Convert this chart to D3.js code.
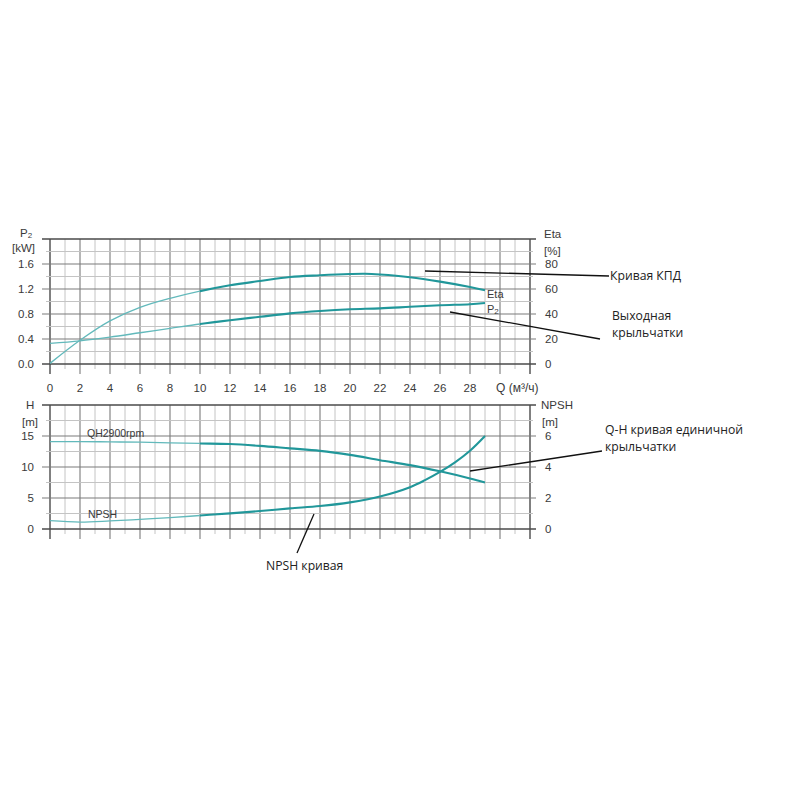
<!DOCTYPE html>
<html><head><meta charset="utf-8">
<script src="https://cdn.jsdelivr.net/npm/d3@7"></script>
<style>body{margin:0;background:#fff}svg{display:block}</style>
</head><body>
<svg id="c" width="800" height="800"></svg>
<script>
// ---- data ----
const xTickLabels = [0,2,4,6,8,10,12,14,16,18,20,22,24,26,28];
const p2Ticks = [0.0,0.4,0.8,1.2,1.6];
const etaTicks = [0,20,40,60,80];
const hTicks = [0,5,10,15];
const npshTicks = [0,2,4,6];

const etaQ = [0,2,4,6,8,10,12,14,16,18,20,21,22,24,26,28,29];
const etaVals = [0.5,19,34.5,45.3,52.5,58.3,63,66.4,69.6,71,72,72.2,71.6,69.4,65.9,61.6,59];

const p2Q = [0,2,4,6,8,10,12,14,16,18,20,22,24,26,28,29];
const p2Vals = [0.33,0.37,0.43,0.5,0.57,0.64,0.70,0.755,0.81,0.848,0.875,0.89,0.915,0.94,0.957,0.975];

const qhQ = [0,2,4,6,8,10,12,14,16,18,20,22,24,26,28,29];
const qhVals = [14.1,14.1,14.05,14.0,13.9,13.8,13.7,13.4,13.0,12.6,11.95,11.1,10.3,9.3,8.15,7.5];

const npshQ = [0,2,4,6,8,10,12,14,16,18,20,22,24,25,26,27,28,29];
const npshVals = [0.54,0.45,0.52,0.62,0.73,0.87,1.01,1.16,1.33,1.48,1.72,2.1,2.7,3.15,3.68,4.3,5.05,6.0];

// ---- layout ----
const svg = d3.select("#c");
const X0=50, X1=530;
const T = {top:239, bot:364};
const B = {top:405, bot:529};
const x = d3.scaleLinear().domain([0,32]).range([X0,X1]);
const yP2 = d3.scaleLinear().domain([0,2]).range([T.bot,T.top]);
const yEta = d3.scaleLinear().domain([0,100]).range([T.bot,T.top]);
const yH = d3.scaleLinear().domain([0,20]).range([B.bot,B.top]);
const yN = d3.scaleLinear().domain([0,8]).range([B.bot,B.top]);

const AX = "Liberation Sans, Arial, sans-serif";
const ANN = "'Open Sans', 'Noto Sans', sans-serif";
const MAJ="#7a7a7a", MIN="#c4c4c4", BORDER="#4a4a4a", TXT="#3a3a3a";
const TEAL="#21979a", TEAL_L="#62b9bb";

function grid(yScale, yStepMinor, yMajors, top, bot) {
  const g = svg.append("g");
  for (let q=0; q<=32; q++) {
    const major = q%2===0;
    g.append("line").attr("x1",x(q)).attr("x2",x(q)).attr("y1",top).attr("y2",bot + (major?10:5))
      .attr("stroke", (q===0||q===32)?BORDER:(major?MAJ:MIN)).attr("stroke-width",(q===0||q===32)?1.4:(major?1.1:1));
  }
  const [d0,d1] = yScale.domain();
  for (let v=d0; v<=d1+1e-9; v+=yStepMinor) {
    const vv = Math.round(v*1000)/1000;
    const isMajor = yMajors.some(m=>Math.abs(m-vv)<1e-6);
    const edge = Math.abs(vv-d0)<1e-6 || Math.abs(vv-d1)<1e-6;
    g.append("line").attr("x1",X0-(isMajor?8:4)).attr("x2",X1+(isMajor?6:3))
      .attr("y1",yScale(vv)).attr("y2",yScale(vv))
      .attr("stroke", edge?BORDER:(isMajor?MAJ:MIN)).attr("stroke-width", edge?1.6:(isMajor?1.1:1));
  }
}

grid(yP2, 0.2, [0,0.4,0.8,1.2,1.6,2.0], T.top, T.bot);
grid(yH, 2.5, [0,5,10,15,20], B.top, B.bot);

const txt = (s,xx,yy,anchor,size,fam,fill) => svg.append("text").attr("x",xx).attr("y",yy)
  .attr("text-anchor",anchor||"start").attr("font-family",fam||AX).attr("font-size",size||11.5)
  .attr("fill",fill||TXT).text(s);

xTickLabels.forEach(q => txt(q, x(q), 392, "middle", 11.5));
txt("Q (м³/ч)", 496, 392, "start", 12);

p2Ticks.forEach(v => txt(v.toFixed(1), 34, yP2(v)+4, "end", 11.5));
etaTicks.forEach(v => txt(v, 545, yEta(v)+4, "start", 11.5));
const p2l = svg.append("text").attr("x",20).attr("y",237).attr("font-family",AX).attr("font-size",11.5).attr("fill",TXT);
p2l.append("tspan").text("P");
p2l.append("tspan").attr("font-size",8).attr("dy",1).text("2");
txt("[kW]", 35, 252, "end", 11.5);
txt("Eta", 544, 238, "start", 11.5);
txt("[%]", 544, 255, "start", 11.5);

hTicks.forEach(v => txt(v, 34, yH(v)+4, "end", 11.5));
npshTicks.forEach(v => txt(v, 545, yN(v)+4, "start", 11.5));
txt("H", 26, 409, "start", 11.5);
txt("[m]", 22, 426, "start", 11.5);
txt("NPSH", 541, 409, "start", 11.5);
txt("[m]", 542, 426, "start", 11.5);

const defs = svg.append("defs");
defs.append("clipPath").attr("id","cl").append("rect").attr("x",0).attr("y",0).attr("width",x(10)).attr("height",800);
defs.append("clipPath").attr("id","cr").append("rect").attr("x",x(10)).attr("y",0).attr("width",800-x(10)).attr("height",800);

function curve(qs, vs, yScale) {
  const pts = qs.map((q,i)=>[x(q), yScale(vs[i])]);
  const line = d3.line().curve(d3.curveCatmullRom.alpha(0.5));
  svg.append("path").attr("d",line(pts)).attr("fill","none").attr("stroke",TEAL_L)
    .attr("stroke-width",1.3).attr("clip-path","url(#cl)");
  svg.append("path").attr("d",line(pts)).attr("fill","none").attr("stroke",TEAL)
    .attr("stroke-width",2.1).attr("clip-path","url(#cr)");
}
curve(etaQ, etaVals, yEta);
curve(p2Q, p2Vals, yP2);
curve(qhQ, qhVals, yH);
curve(npshQ, npshVals, yN);

txt("Eta", 487, 298, "start", 11);
const p2c = svg.append("text").attr("x",487).attr("y",313).attr("font-family",AX).attr("font-size",11).attr("fill",TXT);
p2c.append("tspan").text("P");
p2c.append("tspan").attr("font-size",8).attr("dy",1).text("2");
txt("QH2900rpm", 87, 437, "start", 10.5);
txt("NPSH", 88, 518, "start", 10.5);

const ann = (x1,y1,x2,y2) => svg.append("line").attr("x1",x1).attr("y1",y1).attr("x2",x2).attr("y2",y2)
  .attr("stroke","#111").attr("stroke-width",1.3);
ann(425,271,609,276);
txt("Кривая КПД", 610, 280, "start", 12.2, ANN, "#222");
ann(450,312,600,339);
txt("Выходная", 612, 320, "start", 12.2, ANN, "#222");
txt("крыльчатки", 612, 337, "start", 12.2, ANN, "#222");
ann(470,471,602,451);
txt("Q-H кривая единичной", 605, 434, "start", 12.2, ANN, "#222");
txt("крыльчатки", 605, 451, "start", 12.2, ANN, "#222");
ann(314,514,297,553);
txt("NPSH кривая", 266, 570, "start", 12.2, ANN, "#222");
</script>
</body></html>
